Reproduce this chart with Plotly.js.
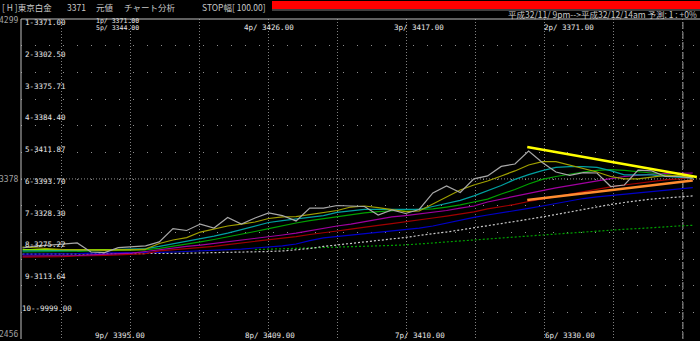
<!DOCTYPE html>
<html><head><meta charset="utf-8">
<script src="https://cdn.plot.ly/plotly-3.0.1.min.js"></script>
<style>html,body{margin:0;padding:0;background:#000;}#chart{width:700px;height:341px;}</style>
</head><body><div id="chart"></div>
<script>
// ---- data (prices) ----
const idx = [0,1,2,3,4,5,6,7,8,9,10,11,12,13,14,15,16,17,18,19,20,21,22,23,24,25,26,27,28,29,30,31,32,33,34,35,36,37,38,39,40,41,42,43,44,45,46,47,48,49];
const price = [2980,2992,2997,3003,3009,2957,2954,2982,2987,2992,3015,3092,3081,3118,3095,3156,3118,3153,3182,3167,3136,3210,3210,3225,3222,3219,3170,3199,3179,3202,3297,3337,3300,3378,3395,3450,3464,3539,3473,3418,3398,3414,3412,3334,3343,3429,3424,3392,3392,3383];
const maOlive = [2986,2980,2974,2971,2969,2966,2966,2969,2969,2974,3006,3026,3040,3072,3089,3107,3118,3130,3150,3159,3161,3173,3182,3196,3216,3222,3213,3202,3190,3193,3233,3274,3314,3343,3366,3395,3424,3458,3478,3478,3458,3435,3418,3392,3378,3378,3389,3398,3395,3386];
const maTeal = [2963,2963,2963,2963,2966,2966,2969,2971,2971,2977,2989,3003,3020,3035,3049,3066,3087,3107,3127,3138,3147,3159,3167,3185,3193,3202,3203,3203,3203,3203,3219,3236,3254,3280,3308,3340,3375,3403,3426,3444,3449,3449,3444,3426,3401,3401,3401,3392,3386,3382];
const maGreen = [2957,2957,2957,2957,2960,2963,2963,2966,2969,2971,2978,2989,3003,3015,3029,3043,3058,3075,3092,3110,3124,3138,3150,3159,3170,3182,3190,3196,3199,3202,3205,3216,3228,3245,3262,3291,3317,3349,3375,3392,3406,3418,3427,3432,3427,3421,3412,3401,3395,3389];
const maMagenta = [2934,2934,2934,2934,2937,2940,2943,2945,2951,2960,2971,2980,2989,2997,3006,3017,3026,3035,3043,3055,3066,3081,3095,3107,3118,3133,3147,3159,3167,3176,3185,3196,3210,3222,3245,3262,3280,3297,3311,3326,3340,3355,3369,3380,3392,3401,3406,3409,3412,3412];
const maRed = [2928,2928,2931,2931,2934,2934,2937,2940,2943,2948,2963,2969,2974,2980,2989,3000,3009,3017,3026,3038,3046,3058,3066,3078,3089,3098,3110,3121,3133,3141,3153,3164,3176,3188,3205,3216,3231,3248,3262,3277,3291,3306,3320,3332,3343,3354,3363,3372,3378,3386];
const maBlue = [2945,2945,2948,2948,2948,2951,2951,2951,2954,2954,2955,2957,2960,2963,2966,2971,2974,2980,2986,2992,3003,3023,3038,3046,3055,3061,3069,3078,3087,3095,3107,3124,3138,3156,3170,3182,3193,3208,3222,3237,3254,3265,3274,3282,3291,3297,3306,3314,3320,3328];
const maWhiteDot = [2945,2945,2945,2945,2945,2945,2945,2947,2947,2948,2948,2949,2950,2951,2952,2954,2956,2957,2960,2963,2969,2977,2989,2997,3006,3015,3023,3032,3041,3052,3061,3072,3084,3095,3110,3121,3133,3144,3159,3173,3188,3202,3216,3231,3242,3254,3262,3268,3274,3280];
const maGreenDot = [null,null,null,null,null,null,null,null,null,null,null,null,null,null,null,null,null,2971,2973,2975,2978,2980,2982,2985,2987,2989,2992,2995,2998,3002,3009,3015,3020,3026,3032,3038,3043,3049,3055,3061,3066,3071,3075,3081,3088,3092,3098,3102,3107,3111];
const limeIdx = [0,1,2,3,4,5,6,7,8,9];
const limeVals = [2971,2971,2971,2971,2971,2971,2971,2971,2971,2971];
const yellowTrendX = [36.9, 49.3];
const yellowTrendY = [3562, 3389];
const orangeTrendX = [36.9, 49.0];
const orangeTrendY = [3256, 3369];

const yMin = 2456, yMax = 4299, yMid = 3378;
const rowLabels = ["1-3371.00","2-3302.50","3-3375.71","4-3384.40","5-3411.87","6-3393.70","7-3328.30","8-3275.22","9-3113.64","10--9999.00"];
const topLabels = ["4p/ 3426.00","3p/ 3417.00","2p/ 3371.00"];
const topFirst = ["1p/ 3371.00","5p/ 3344.00"];
const bottomLabels = ["9p/ 3395.00","8p/ 3409.00","7p/ 3410.00","6p/ 3330.00"];
const headerItems = ["[ H ]東京白金","3371","元値","チャート分析","STOP幅[ 100.00]"];
const subHeader = "平成32/11/ 9pm-->平成32/12/14am 予測: 1 : +0%";

// ---- layout helpers ----
const W=700,H=341,L=21,R=0,T=19,B=2;
const px = x => (x-L)/(W-L-R);
const py = y => (H-B-y)/(H-T-B);
const monoFont = {family:"DejaVu Sans Mono, Liberation Mono, monospace", size:7.5, color:"#e8e8e8"};
const smallMono = {family:"DejaVu Sans Mono, Liberation Mono, monospace", size:6.5, color:"#e8e8e8"};
const cjkFont = {family:"Noto Sans CJK JP, sans-serif", size:8.5, color:"#c8c8c8"};

function line(y, color, width, dash, x){
  return {x: x||idx, y:y, type:"scatter", mode:"lines", hoverinfo:"skip",
          line:{color:color, width:width, dash:dash||"solid"}, connectgaps:false};
}
const traces = [
  line(maGreenDot, "#00a000", 1.2, "2px,2px"),
  line(maWhiteDot, "#c8c8c8", 1.2, "2px,2px"),
  line(maBlue, "#0000c8", 1.2),
  line(maRed, "#a00000", 1.2),
  line(maMagenta, "#a000a0", 1.2),
  line(maGreen, "#00a000", 1.2),
  line(maTeal, "#00a0a0", 1.2),
  line(limeVals, "#80e000", 1.2, "solid", limeIdx),
  line(maOlive, "#a0a000", 1.2),
  line(price, "#a8a8a8", 1.2),
  line(yellowTrendY, "#ffff00", 2.5, "solid", yellowTrendX),
  line(orangeTrendY, "#ff8c30", 2.5, "solid", orangeTrendX)
];

const ann = [];
function addText(text, x, y, font, xanchor){
  ann.push({text:text, xref:"paper", yref:"paper", x:px(x), y:py(y), xanchor:xanchor||"left", yanchor:"middle",
            showarrow:false, font:font, borderpad:0});
}
// header
const headerX = [1, 66, 95, 123, 201];
headerItems.forEach((t,i)=>addText(t, headerX[i], 6.5, cjkFont));
addText(subHeader, 698, 14, {family:"Noto Sans CJK JP, sans-serif", size:8.5, color:"#c8c8c8"}, "right");
// left price labels
const sideFont = {family:"DejaVu Sans Mono, Liberation Mono, monospace", size:8, color:"#a0a0a0"};
addText("4299", 19, 21, sideFont, "right");
addText("3378", 19, 179, sideFont, "right");
addText("2456", 19, 334, sideFont, "right");
// row labels
rowLabels.forEach((t,i)=>addText(t, i===9?21:24, 22.5+31.75*i, monoFont));
// top / bottom labels
addText(topFirst[0], 95, 21, smallMono);
addText(topFirst[1], 95, 27.5, smallMono);
topLabels.forEach((t,i)=>addText(t, 243+150*i, 27.5, monoFont));
bottomLabels.forEach((t,i)=>addText(t, 94+150*i, 335, monoFont));

const shapes = [
  {type:"rect", xref:"paper", yref:"paper", x0:px(272), x1:px(700), y0:py(9), y1:py(1), fillcolor:"#ff0000", line:{width:0}},
  {type:"line", xref:"paper", yref:"paper", x0:px(272), x1:px(700), y0:py(10), y1:py(10), line:{color:"#808080", width:1}},
  {type:"line", xref:"paper", yref:"y", x0:0, x1:1, y0:yMid, y1:yMid, line:{color:"#909090", width:1, dash:"1px,2px"}, layer:"below"},
  {type:"line", xref:"x", yref:"paper", x0:48.28, x1:48.28, y0:0, y1:1, line:{color:"#a0a0a0", width:1, dash:"7px,3px"}, layer:"below"},
  {type:"line", xref:"paper", yref:"paper", x0:0, x1:0, y0:0, y1:1, line:{color:"#c0c0c0", width:1}},
  {type:"line", xref:"paper", yref:"paper", x0:0, x1:1, y0:1, y1:1, line:{color:"#c0c0c0", width:1}}
];

const layout = {
  width:W, height:H, margin:{l:L, r:R, t:T, b:B, pad:0},
  paper_bgcolor:"#000", plot_bgcolor:"#000", showlegend:false,
  xaxis:{range:[-0.11,49.53], tickmode:"linear", tick0:2.887, dtick:5.044, showgrid:true,
         gridcolor:"#808080", griddash:"1px,2px", gridwidth:1, showticklabels:false, zeroline:false,
         showline:false, ticks:"", fixedrange:true},
  yaxis:{range:[yMin,yMax], tickmode:"linear", tick0:yMin, dtick:(yMax-yMin)/12, showgrid:true,
         gridcolor:"#909090", griddash:"1px,13px", gridwidth:1, showticklabels:false, zeroline:false,
         showline:false, ticks:"", fixedrange:true},
  annotations:ann, shapes:shapes
};
Plotly.newPlot("chart", traces, layout, {staticPlot:true, displayModeBar:false});
</script></body></html>
